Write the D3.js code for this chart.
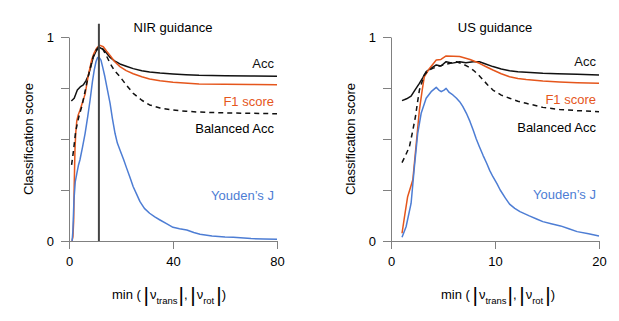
<!DOCTYPE html>
<html>
<head>
<meta charset="utf-8">
<script src="https://cdn.jsdelivr.net/npm/d3@7"></script>
<style>
  body { margin: 0; background: #fff; }
  svg text { font-family: "Liberation Sans", Arial, Helvetica, sans-serif; }
</style>
</head>
<body>
<div id="chart"></div>
<script>
// classification scores vs. threshold, [threshold, score]
const nirAcc = [[0.9,0.686],[2,0.70],[3.2,0.74],[4.3,0.755],[5.5,0.765],[6.5,0.785],[7.4,0.81],[8.3,0.85],[9.3,0.90],[10.4,0.93],[11.5,0.95],[12.3,0.945],[13.2,0.94],[14.5,0.92],[15.8,0.90],[17.5,0.883],[19.6,0.868],[22,0.857],[24.7,0.845],[28,0.835],[31,0.828],[35,0.823],[40,0.819],[45,0.815],[50,0.812],[60,0.81],[70,0.809],[80,0.808]];
const nirF1 = [[1.15,0],[1.5,0.02],[1.8,0.10],[2.0,0.27],[2.3,0.45],[2.6,0.53],[3.0,0.59],[3.6,0.62],[4.2,0.64],[5.2,0.68],[6.2,0.72],[7.4,0.81],[8.7,0.887],[9.6,0.92],[10.6,0.945],[11.7,0.96],[13.2,0.952],[14.5,0.93],[15.8,0.91],[17.5,0.88],[19.6,0.855],[22,0.835],[24.7,0.82],[28,0.805],[31,0.794],[35,0.785],[40,0.778],[50,0.77],[60,0.768],[70,0.767],[80,0.766]];
const nirBalAcc = [[1,0.373],[1.5,0.42],[1.9,0.462],[2.5,0.53],[3.2,0.577],[4,0.62],[4.9,0.658],[5.8,0.71],[6.8,0.773],[8,0.84],[9.3,0.903],[10.4,0.935],[11.5,0.952],[12.3,0.948],[13.2,0.936],[14.5,0.905],[15.8,0.871],[17.5,0.835],[19.6,0.806],[22,0.765],[24.7,0.724],[28,0.69],[31,0.667],[35,0.652],[40,0.642],[45,0.636],[50,0.632],[60,0.628],[70,0.626],[80,0.624]];
const nirYouden = [[1.2,0],[1.5,0.05],[1.9,0.2],[2.4,0.29],[3,0.33],[3.6,0.37],[4.2,0.397],[5.2,0.46],[6.2,0.528],[7.2,0.61],[8.1,0.69],[9,0.78],[9.7,0.838],[10.4,0.88],[11,0.90],[11.6,0.9],[12.3,0.887],[13,0.85],[13.8,0.805],[14.8,0.74],[15.8,0.675],[16.7,0.6],[17.7,0.528],[18.6,0.48],[19.6,0.446],[21,0.40],[22.2,0.356],[23.5,0.31],[24.7,0.266],[26,0.23],[27.3,0.193],[29,0.16],[31,0.136],[33,0.118],[35,0.103],[37.5,0.085],[40,0.067],[42.5,0.06],[45.3,0.054],[48,0.042],[50.4,0.033],[55,0.025],[60,0.02],[63.2,0.018],[70,0.012],[75,0.01],[80,0.008]];
const nirOptimum = 11.5;

const usAcc = [[1.06,0.688],[1.5,0.697],[1.93,0.71],[2.3,0.74],[2.73,0.773],[3.05,0.80],[3.38,0.83],[3.8,0.845],[4.35,0.863],[4.8,0.858],[5.3,0.879],[5.9,0.872],[6.6,0.879],[7.2,0.874],[7.9,0.879],[8.5,0.879],[9.1,0.868],[9.8,0.855],[10.6,0.843],[11.4,0.835],[12.2,0.83],[13,0.827],[14.6,0.822],[16,0.82],[17.9,0.817],[20,0.814]];
const usF1 = [[1.06,0.038],[1.3,0.12],[1.6,0.217],[2.1,0.30],[2.4,0.462],[2.73,0.642],[3.0,0.74],[3.2,0.805],[3.7,0.846],[4.35,0.887],[4.8,0.89],[5.3,0.907],[6,0.906],[6.6,0.904],[7.6,0.89],[8.5,0.871],[9.2,0.853],[9.8,0.838],[10.6,0.82],[11.4,0.805],[12.2,0.797],[13,0.792],[14.6,0.784],[16.2,0.78],[17.9,0.776],[20,0.773]];
const usBalAcc = [[1.06,0.384],[1.4,0.42],[1.77,0.462],[2.05,0.53],[2.35,0.609],[2.55,0.68],[2.73,0.74],[3.2,0.814],[3.6,0.835],[4,0.846],[4.5,0.855],[5,0.863],[5.6,0.87],[6.3,0.879],[6.9,0.868],[7.4,0.855],[7.9,0.838],[8.4,0.815],[8.85,0.79],[9.3,0.765],[9.8,0.74],[10.6,0.715],[11.4,0.70],[12.2,0.685],[13,0.675],[14.6,0.655],[16.2,0.645],[17.9,0.639],[20,0.634]];
const usYouden = [[1.06,0.018],[1.45,0.07],[1.93,0.184],[2.25,0.364],[2.57,0.528],[2.9,0.626],[3.38,0.70],[3.86,0.732],[4.35,0.753],[4.6,0.74],[4.83,0.732],[5.1,0.74],[5.3,0.748],[5.6,0.728],[5.95,0.716],[6.3,0.70],[6.6,0.683],[6.9,0.66],[7.25,0.626],[7.6,0.585],[7.9,0.544],[8.2,0.50],[8.5,0.462],[8.85,0.42],[9.2,0.381],[9.5,0.345],[9.8,0.315],[10.2,0.28],[10.5,0.25],[11,0.21],[11.4,0.181],[11.9,0.16],[12.4,0.144],[13.3,0.123],[14,0.108],[14.6,0.095],[15.4,0.085],[16.3,0.074],[17.1,0.06],[17.9,0.046],[19,0.035],[20,0.025]];

const panelTitles = ['NIR guidance', 'US guidance'];
const xDomains = [[0, 80], [0, 20]];
const xTickValues = [[0, 40, 80], [0, 10, 20]];
const yTickValues = [0, 0.25, 0.5, 0.75, 1];
const seriesNames = ['Acc', 'F1 score', 'Balanced Acc', "Youden\u2019s J"];

// styling / layout
const seriesStyle = [
  { color: '#111', dash: null },
  { color: '#e5561c', dash: null },
  { color: '#111', dash: '5,4' },
  { color: '#4d7dd4', dash: null }
];
const panels = [
  { left: 69, series: [nirAcc, nirF1, nirBalAcc, nirYouden], labelY: [68, 106, 133, 200], xlabelShift: -4, marker: nirOptimum },
  { left: 391, series: [usAcc, usF1, usBalAcc, usYouden], labelY: [66, 104, 132, 199], xlabelShift: 3, marker: null }
];
const plotW = 208, plotTop = 37, plotBottom = 241;

const svg = d3.select('#chart').append('svg')
  .attr('width', 619).attr('height', 321);

const y = d3.scaleLinear().domain([0, 1]).range([plotBottom, plotTop]);

panels.forEach((p, i) => {
  const x = d3.scaleLinear().domain(xDomains[i]).range([p.left, p.left + plotW]);
  const g = svg.append('g');

  // axes
  const yAxis = d3.axisLeft(y).tickValues(yTickValues).tickSize(8).tickSizeOuter(0).tickPadding(7)
    .tickFormat(d => (d === 0 || d === 1) ? d3.format('d')(d) : '');
  const xAxis = d3.axisBottom(x).tickValues(xTickValues[i]).tickSize(8).tickSizeOuter(0).tickPadding(8);

  g.append('g').attr('transform', `translate(${p.left},0)`).call(yAxis);
  g.append('g').attr('transform', `translate(0,${plotBottom})`).call(xAxis);
  g.selectAll('.domain, .tick line').attr('stroke', '#808080').attr('stroke-width', 1);
  g.selectAll('.tick text').attr('font-size', 13).attr('fill', '#000')
    .style('font-family', '"Liberation Sans", Arial, sans-serif');

  // curves
  const line = d3.line().x(d => x(d[0])).y(d => y(d[1]));
  p.series.forEach((s, k) => {
    g.append('path').datum(s)
      .attr('d', line)
      .attr('fill', 'none')
      .attr('stroke', seriesStyle[k].color)
      .attr('stroke-width', 1.5)
      .attr('stroke-linejoin', 'round')
      .attr('stroke-dasharray', seriesStyle[k].dash);
  });

  // optimum threshold marker
  if (p.marker != null) {
    g.append('line')
      .attr('x1', x(p.marker)).attr('x2', x(p.marker))
      .attr('y1', y(1.065)).attr('y2', y(0))
      .attr('stroke', '#444').attr('stroke-width', 2);
  }

  // series labels
  seriesNames.forEach((name, k) => {
    g.append('text')
      .attr('x', p.left + plotW - 3)
      .attr('y', p.labelY[k])
      .attr('text-anchor', 'end')
      .attr('font-size', 13)
      .attr('fill', k === 2 ? '#000' : seriesStyle[k].color)
      .text(name);
  });

  // title
  g.append('text')
    .attr('x', p.left + plotW / 2)
    .attr('y', 32)
    .attr('text-anchor', 'middle')
    .attr('font-size', 13)
    .text(panelTitles[i]);

  // y label
  g.append('text')
    .attr('transform', `translate(${p.left - 36},${(plotTop + plotBottom) / 2}) rotate(-90)`)
    .attr('text-anchor', 'middle')
    .attr('font-size', 13)
    .text('Classification score');

  // x label: min ( |ν_trans|, |ν_rot| )
  const xl = g.append('text')
    .attr('x', p.left + plotW / 2 + p.xlabelShift)
    .attr('y', 299)
    .attr('text-anchor', 'middle')
    .attr('font-size', 13);
  xl.append('tspan').text('min (\u2009');
  xl.append('tspan').attr('font-size', 21).attr('dy', 3).text('|');
  xl.append('tspan').attr('dy', -3).attr('dx', 1).text('\u03bd');
  xl.append('tspan').attr('font-size', 9.5).attr('dy', 5).text('trans');
  xl.append('tspan').attr('font-size', 21).attr('dy', -2).attr('dx', 1).text('|');
  xl.append('tspan').attr('dy', -3).text(',\u2009');
  xl.append('tspan').attr('font-size', 21).attr('dy', 3).text('|');
  xl.append('tspan').attr('dy', -3).attr('dx', 1).text('\u03bd');
  xl.append('tspan').attr('font-size', 9.5).attr('dy', 5).text('rot');
  xl.append('tspan').attr('font-size', 21).attr('dy', -2).attr('dx', 2).text('|');
  xl.append('tspan').attr('dy', -3).text(')');
});
</script>
</body>
</html>
